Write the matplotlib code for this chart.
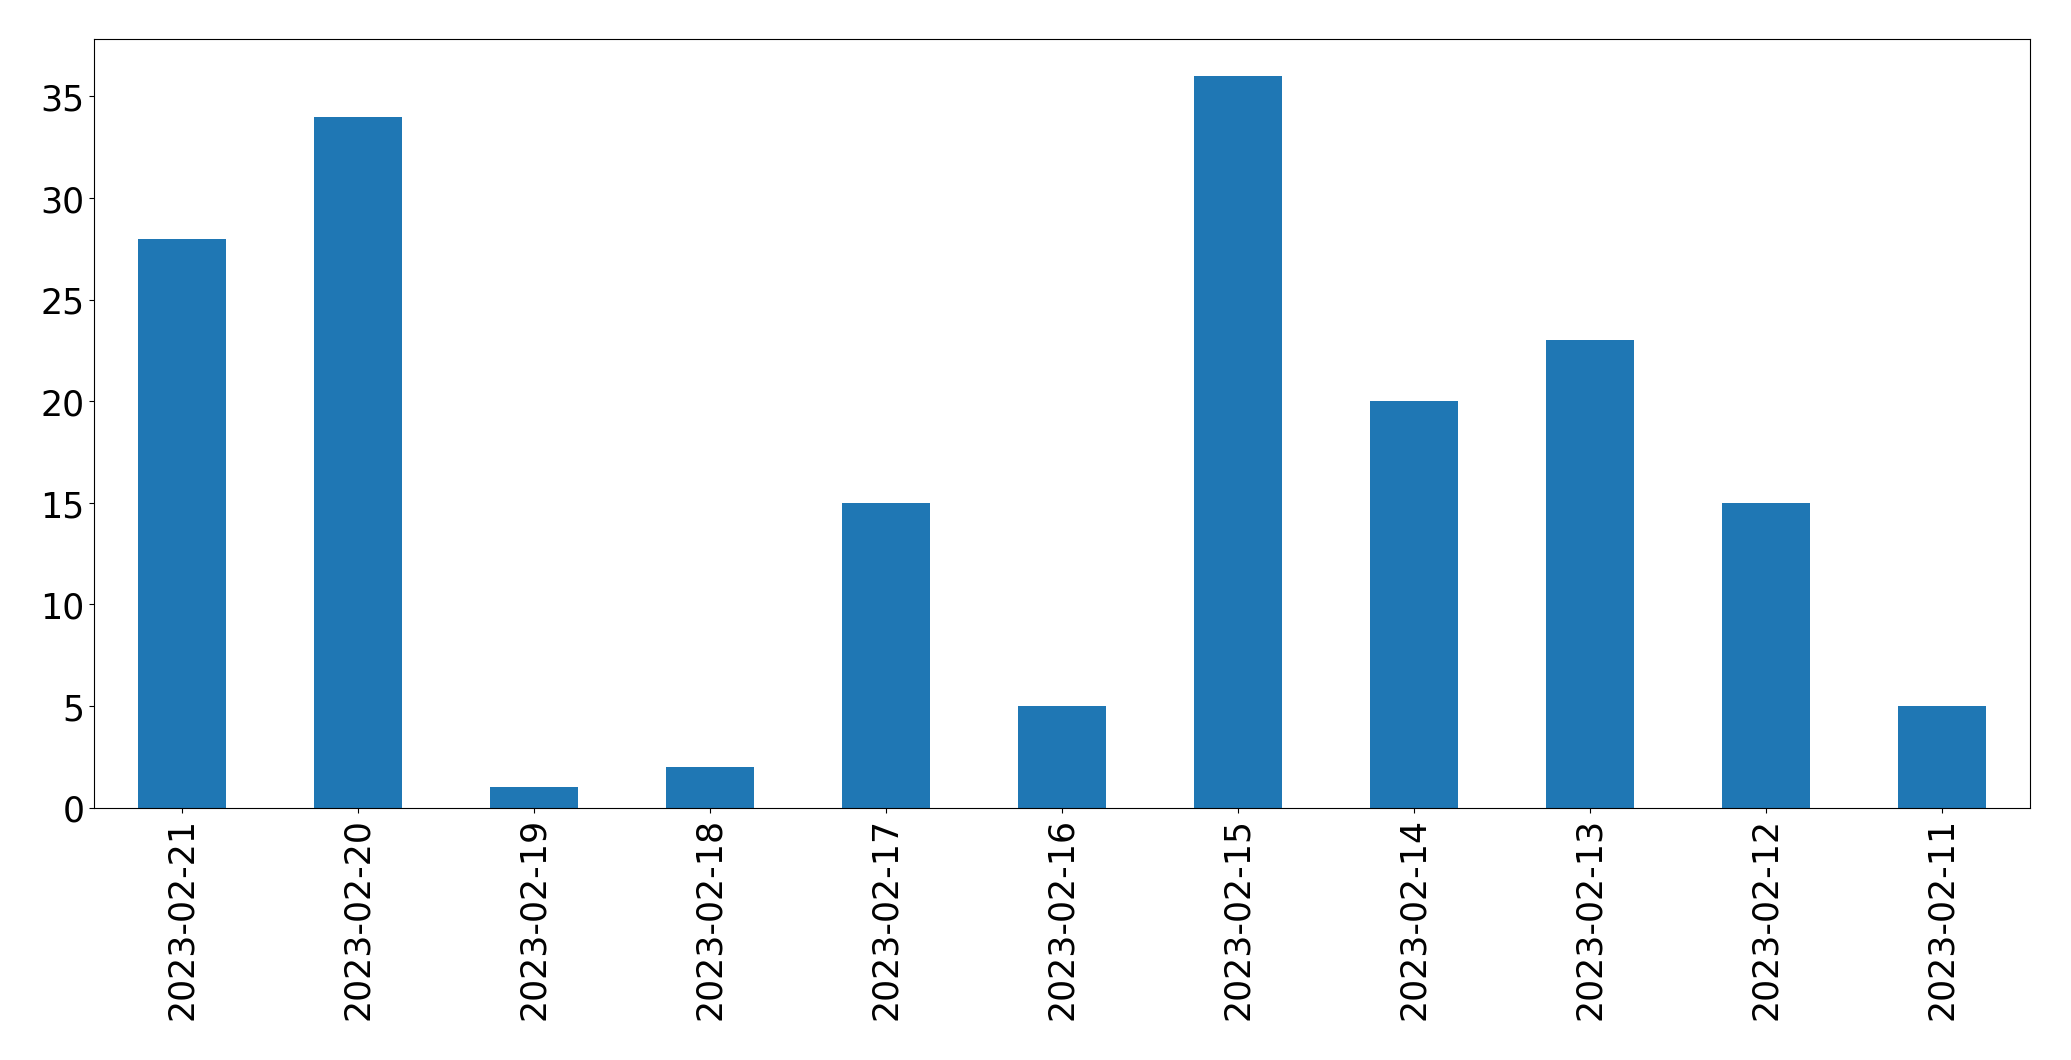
import matplotlib
matplotlib.use("Agg")
import matplotlib.pyplot as plt
import pandas as pd

dates = ["2023-02-21", "2023-02-20", "2023-02-19", "2023-02-18", "2023-02-17",
         "2023-02-16", "2023-02-15", "2023-02-14", "2023-02-13", "2023-02-12",
         "2023-02-11"]
counts = [28, 34, 1, 2, 15, 5, 36, 20, 23, 15, 5]

s = pd.Series(counts, index=dates)

fig, ax = plt.subplots(figsize=(20.71, 10.609), dpi=100)
s.plot(kind="bar", ax=ax, color="#1f77b4", fontsize=25)
fig.subplots_adjust(left=0.0454, right=0.980, top=0.962, bottom=0.238)
fig.savefig("out.png", dpi=100)
